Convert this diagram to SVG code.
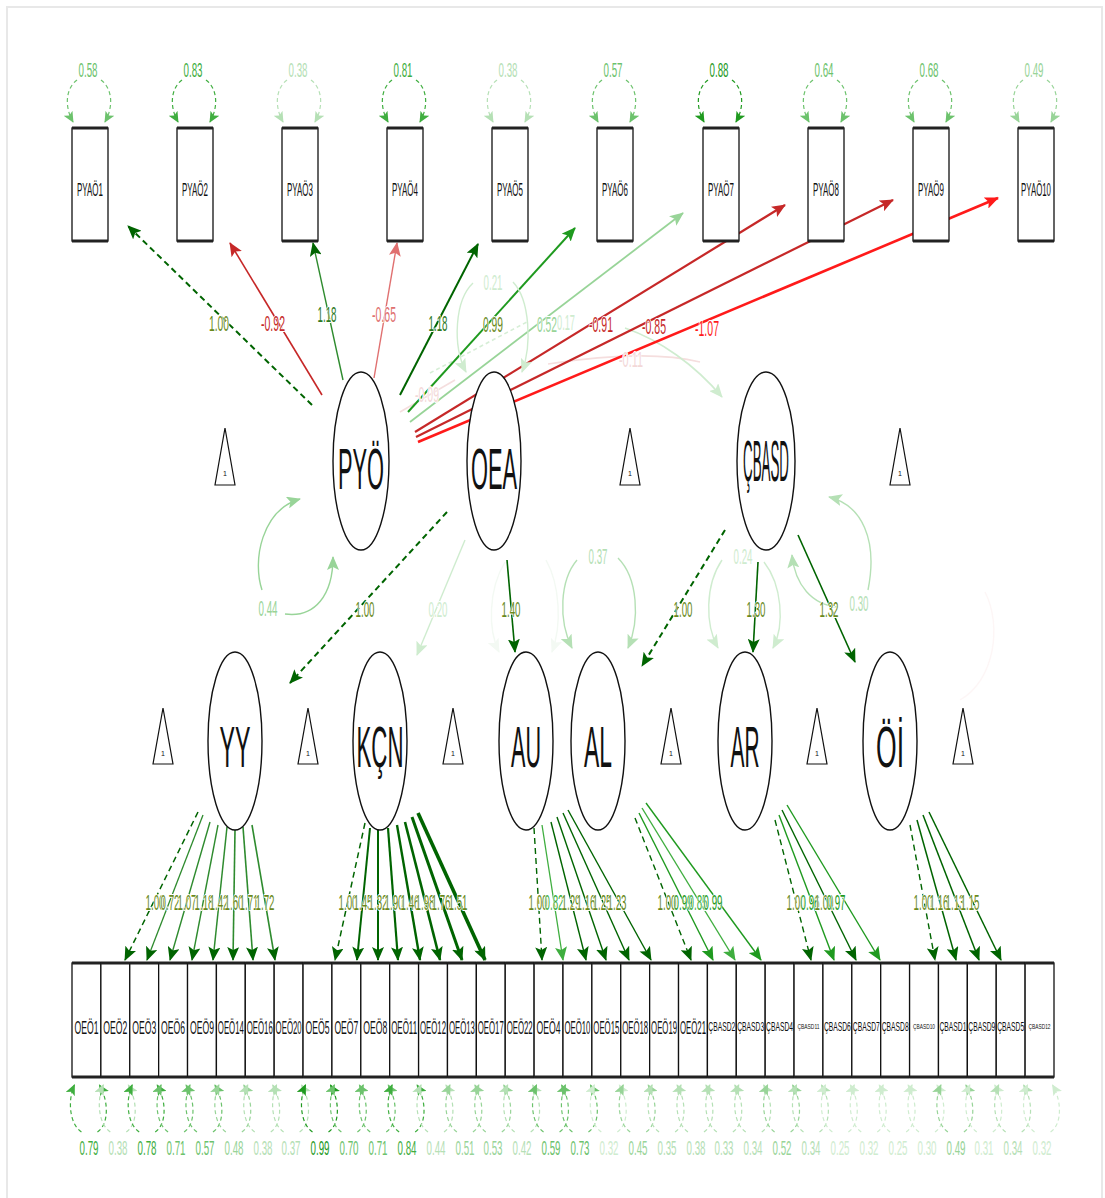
<svg xmlns="http://www.w3.org/2000/svg" width="1105" height="1198" viewBox="0 0 1105 1198">
<style>
text{font-family:'Liberation Sans',Arial,sans-serif}
.box{fill:#fff;stroke:#111;stroke-width:1.3}
.cap{stroke:#222;stroke-width:3;fill:none}
.lat{fill:#fff;stroke:#111;stroke-width:1.4}
.tri{fill:#fff;stroke:#111;stroke-width:1.2}
.one{font-size:7px;text-anchor:middle;fill:#111}
.bt{font-size:18px;text-anchor:middle;fill:#111}
.bs{font-size:13px;text-anchor:middle;fill:#111}
.bx{font-size:8px;text-anchor:middle;fill:#111}
.lt{font-size:58px;text-anchor:middle;fill:#111}
.e{fill:none}
.d{stroke-dasharray:6 4}
.kA{stroke:#006400;marker-end:url(#aA)}
.kY{stroke:#2e8b2e;marker-end:url(#aA)}
.kB{stroke:#1f9a1f;marker-end:url(#aB)}
.kC{stroke:#3fae3f;marker-end:url(#aC)}
.kE{stroke:#98d498;marker-end:url(#aE)}
.kF{stroke:#b5e0b5;marker-end:url(#aF)}
.kG{stroke:#cfeccf;marker-end:url(#aG)}
.kH{stroke:#f3f9f3;marker-end:url(#aH)}
.kR1{stroke:#ff1a1a;marker-end:url(#aR1)}
.kR2{stroke:#c62828;marker-end:url(#aR2)}
.kR3{stroke:#e07070;marker-end:url(#aR3)}
.vl{fill:none;stroke-width:1.2;stroke-dasharray:4 3}
.vB{stroke:#1f9a1f;marker-end:url(#sB)}
.vC{stroke:#3fae3f;marker-end:url(#sC)}
.vD{stroke:#6cc26c;marker-end:url(#sD)}
.vE{stroke:#98d498;marker-end:url(#sE)}
.vF{stroke:#b5e0b5;marker-end:url(#sF)}
.vG{stroke:#cfeccf;marker-end:url(#sG)}
.lb{font-size:22px;text-anchor:middle;paint-order:stroke;stroke:#fff;stroke-width:2px;stroke-linejoin:round}
.vt{font-size:21px;text-anchor:middle}
.tO{fill:#6a8a1c}
.tA{fill:#2f7a1f}
.tB{fill:#1f9a1f}
.tC{fill:#3fae3f}
.tD{fill:#6cc26c}
.tE{fill:#98d498}
.tF{fill:#b5e0b5}
.tG{fill:#cfeccf}
.tR1{fill:#ff1a1a}
.tR2{fill:#c62828}
.tR3{fill:#e07070}
.tP{fill:#f3d8d8}
</style>
<defs>
<marker id="aA" viewBox="0 0 14 12" refX="13" refY="6" markerWidth="14" markerHeight="12" markerUnits="userSpaceOnUse" orient="auto"><path d="M0,0L14,6L0,12L3,6Z" fill="#006400"/></marker>
<marker id="aB" viewBox="0 0 14 12" refX="13" refY="6" markerWidth="14" markerHeight="12" markerUnits="userSpaceOnUse" orient="auto"><path d="M0,0L14,6L0,12L3,6Z" fill="#1f9a1f"/></marker>
<marker id="aC" viewBox="0 0 14 12" refX="13" refY="6" markerWidth="14" markerHeight="12" markerUnits="userSpaceOnUse" orient="auto"><path d="M0,0L14,6L0,12L3,6Z" fill="#3fae3f"/></marker>
<marker id="aE" viewBox="0 0 14 12" refX="13" refY="6" markerWidth="14" markerHeight="12" markerUnits="userSpaceOnUse" orient="auto"><path d="M0,0L14,6L0,12L3,6Z" fill="#98d498"/></marker>
<marker id="aF" viewBox="0 0 14 12" refX="13" refY="6" markerWidth="14" markerHeight="12" markerUnits="userSpaceOnUse" orient="auto"><path d="M0,0L14,6L0,12L3,6Z" fill="#b5e0b5"/></marker>
<marker id="aG" viewBox="0 0 14 12" refX="13" refY="6" markerWidth="14" markerHeight="12" markerUnits="userSpaceOnUse" orient="auto"><path d="M0,0L14,6L0,12L3,6Z" fill="#cfeccf"/></marker>
<marker id="aH" viewBox="0 0 14 12" refX="13" refY="6" markerWidth="14" markerHeight="12" markerUnits="userSpaceOnUse" orient="auto"><path d="M0,0L14,6L0,12L3,6Z" fill="#f3f9f3"/></marker>
<marker id="aR1" viewBox="0 0 14 12" refX="13" refY="6" markerWidth="14" markerHeight="12" markerUnits="userSpaceOnUse" orient="auto"><path d="M0,0L14,6L0,12L3,6Z" fill="#ff1a1a"/></marker>
<marker id="aR2" viewBox="0 0 14 12" refX="13" refY="6" markerWidth="14" markerHeight="12" markerUnits="userSpaceOnUse" orient="auto"><path d="M0,0L14,6L0,12L3,6Z" fill="#c62828"/></marker>
<marker id="aR3" viewBox="0 0 14 12" refX="13" refY="6" markerWidth="14" markerHeight="12" markerUnits="userSpaceOnUse" orient="auto"><path d="M0,0L14,6L0,12L3,6Z" fill="#e07070"/></marker>
<marker id="sB" viewBox="0 0 11 10" refX="10" refY="5" markerWidth="11" markerHeight="10" markerUnits="userSpaceOnUse" orient="auto"><path d="M0,0L11,5L0,10L2.5,5Z" fill="#1f9a1f"/></marker>
<marker id="sC" viewBox="0 0 11 10" refX="10" refY="5" markerWidth="11" markerHeight="10" markerUnits="userSpaceOnUse" orient="auto"><path d="M0,0L11,5L0,10L2.5,5Z" fill="#3fae3f"/></marker>
<marker id="sD" viewBox="0 0 11 10" refX="10" refY="5" markerWidth="11" markerHeight="10" markerUnits="userSpaceOnUse" orient="auto"><path d="M0,0L11,5L0,10L2.5,5Z" fill="#6cc26c"/></marker>
<marker id="sE" viewBox="0 0 11 10" refX="10" refY="5" markerWidth="11" markerHeight="10" markerUnits="userSpaceOnUse" orient="auto"><path d="M0,0L11,5L0,10L2.5,5Z" fill="#98d498"/></marker>
<marker id="sF" viewBox="0 0 11 10" refX="10" refY="5" markerWidth="11" markerHeight="10" markerUnits="userSpaceOnUse" orient="auto"><path d="M0,0L11,5L0,10L2.5,5Z" fill="#b5e0b5"/></marker>
<marker id="sG" viewBox="0 0 11 10" refX="10" refY="5" markerWidth="11" markerHeight="10" markerUnits="userSpaceOnUse" orient="auto"><path d="M0,0L11,5L0,10L2.5,5Z" fill="#cfeccf"/></marker>
<g id="lpT"><path d="M-13,80C-24,88 -26,106 -17,122"/><path d="M11,80C22,88 24,106 15,122"/></g>
<g id="lpB"><path d="M-5,1132C-17,1124 -19,1100 -12,1085"/><path d="M11,1132C23,1124 22,1100 13,1085"/></g>
</defs>
<rect x="7" y="7" width="1095" height="1200" fill="none" stroke="#e8e8e8" stroke-width="2"/>

<g id="connectors">
<use href="#lpT" x="90" class="vl vD"/><use href="#lpT" x="195" class="vl vC"/><use href="#lpT" x="300" class="vl vF"/><use href="#lpT" x="405" class="vl vC"/><use href="#lpT" x="510" class="vl vF"/>
<use href="#lpT" x="615" class="vl vD"/><use href="#lpT" x="721" class="vl vB"/><use href="#lpT" x="826" class="vl vD"/><use href="#lpT" x="931" class="vl vD"/><use href="#lpT" x="1036" class="vl vE"/>
<text class="vt tD" x="88" y="77" textLength="19" lengthAdjust="spacingAndGlyphs">0.58</text>
<text class="vt tC" x="193" y="77" textLength="19" lengthAdjust="spacingAndGlyphs">0.83</text>
<text class="vt tF" x="298" y="77" textLength="19" lengthAdjust="spacingAndGlyphs">0.38</text>
<text class="vt tC" x="403" y="77" textLength="19" lengthAdjust="spacingAndGlyphs">0.81</text>
<text class="vt tF" x="508" y="77" textLength="19" lengthAdjust="spacingAndGlyphs">0.38</text>
<text class="vt tD" x="613" y="77" textLength="19" lengthAdjust="spacingAndGlyphs">0.57</text>
<text class="vt tB" x="719" y="77" textLength="19" lengthAdjust="spacingAndGlyphs">0.88</text>
<text class="vt tD" x="824" y="77" textLength="19" lengthAdjust="spacingAndGlyphs">0.64</text>
<text class="vt tD" x="929" y="77" textLength="19" lengthAdjust="spacingAndGlyphs">0.68</text>
<text class="vt tE" x="1034" y="77" textLength="19" lengthAdjust="spacingAndGlyphs">0.49</text>

<path class="e" stroke="#d6eed6" stroke-width="1.6" stroke-dasharray="4 3" d="M430,373L527,322"/>
<path class="e" stroke="#f5dede" stroke-width="1.6" d="M400,412L455,380"/>
<path class="e" stroke="#f5dede" stroke-width="1.6" d="M548,364C600,356 660,352 700,362"/>
<path class="e kG" stroke-width="1.6" d="M625,328C660,340 695,365 722,397"/>

<path class="e kA d" stroke-width="2" d="M312,405L128,226"/>
<path class="e kR2" stroke-width="1.6" d="M322,395L230,243"/>
<path class="e kY" stroke-width="1.4" d="M343,380L313,243"/>
<path class="e kR3" stroke-width="1.4" d="M374,378L397,243"/>
<path class="e kA" stroke-width="2" d="M400,395L478,244"/>
<path class="e kB" stroke-width="2" d="M408,412L575,228"/>
<path class="e kE" stroke-width="1.8" d="M410,422L683,213"/>
<path class="e kR2" stroke-width="2.2" d="M415,432L785,205"/>
<path class="e kR2" stroke-width="2.2" d="M416,437L893,200"/>
<path class="e kR1" stroke-width="2.6" d="M418,442L998,198"/>
<text class="lb tO" x="219" y="331" textLength="20" lengthAdjust="spacingAndGlyphs">1.00</text>
<text class="lb tR2" x="273" y="331" textLength="24" lengthAdjust="spacingAndGlyphs">-0.92</text>
<text class="lb tA" x="327" y="322" textLength="19" lengthAdjust="spacingAndGlyphs">1.18</text>
<text class="lb tR3" x="384" y="322" textLength="24" lengthAdjust="spacingAndGlyphs">-0.65</text>
<text class="lb tA" x="438" y="331" textLength="19" lengthAdjust="spacingAndGlyphs">1.18</text>
<text class="lb tO" x="493" y="332" textLength="20" lengthAdjust="spacingAndGlyphs">0.99</text>
<text class="lb tE" x="547" y="332" textLength="20" lengthAdjust="spacingAndGlyphs">0.52</text>
<text class="lb tG" x="566" y="330" textLength="18" lengthAdjust="spacingAndGlyphs">0.17</text>
<text class="lb tR2" x="601" y="332" textLength="24" lengthAdjust="spacingAndGlyphs">-0.91</text>
<text class="lb tR2" x="654" y="334" textLength="24" lengthAdjust="spacingAndGlyphs">-0.85</text>
<text class="lb tR1" x="707" y="336" textLength="24" lengthAdjust="spacingAndGlyphs">-1.07</text>
<text class="lb tP" x="427" y="402" textLength="24" lengthAdjust="spacingAndGlyphs">-0.09</text>
<text class="lb tP" x="631" y="367" textLength="24" lengthAdjust="spacingAndGlyphs">-0.11</text>

<path class="e kE" stroke-width="1.4" d="M262,590C252,560 262,510 300,499"/>
<path class="e kE" stroke-width="1.4" d="M285,614C315,618 333,595 333,557"/>
<path class="e kG" stroke-width="1.4" d="M473,283C455,300 452,345 466,372"/>
<path class="e kG" stroke-width="1.4" d="M513,282C530,300 532,345 522,372"/>
<path class="e kF" stroke-width="1.4" d="M868,590C878,540 862,505 829,497"/>
<path class="e kF" stroke-width="1.4" d="M838,607C812,605 795,585 792,555"/>
<path class="e kF" stroke-width="1.4" d="M577,560C560,580 558,620 572,648"/>
<path class="e kF" stroke-width="1.4" d="M618,558C638,578 640,620 628,648"/>
<path class="e kG" stroke-width="1.4" d="M722,560C705,585 705,625 718,648"/>
<path class="e kG" stroke-width="1.4" d="M764,562C782,585 785,625 773,648"/>
<path class="e kH" stroke-width="1.4" d="M505,562C488,590 488,630 499,652"/>
<path class="e kH" stroke-width="1.4" d="M546,560C560,585 562,625 552,652"/>
<path class="e" stroke="#fdf6f6" stroke-width="1.4" d="M985,592C1002,625 995,680 960,700"/>
<text class="lb tE" x="268" y="616" textLength="19" lengthAdjust="spacingAndGlyphs">0.44</text>
<text class="lb tG" x="493" y="290" textLength="19" lengthAdjust="spacingAndGlyphs">0.21</text>
<text class="lb tF" x="598" y="564" textLength="19" lengthAdjust="spacingAndGlyphs">0.37</text>
<text class="lb tG" x="743" y="564" textLength="19" lengthAdjust="spacingAndGlyphs">0.24</text>
<text class="lb tF" x="859" y="611" textLength="19" lengthAdjust="spacingAndGlyphs">0.30</text>

<path class="e kA d" stroke-width="2" d="M447,512L290,683"/>
<path class="e kG" stroke-width="1.4" d="M465,540L417,655"/>
<path class="e kA" stroke-width="1.6" d="M507,560L515,652"/>
<path class="e kA d" stroke-width="2" d="M725,530L642,666"/>
<path class="e kA" stroke-width="1.6" d="M758,562L753,652"/>
<path class="e kA" stroke-width="1.6" d="M798,535L855,662"/>
<text class="lb tO" x="365" y="617" textLength="19" lengthAdjust="spacingAndGlyphs">1.00</text>
<text class="lb tG" x="438" y="617" textLength="19" lengthAdjust="spacingAndGlyphs">0.20</text>
<text class="lb tO" x="511" y="617" textLength="19" lengthAdjust="spacingAndGlyphs">1.40</text>
<text class="lb tO" x="683" y="617" textLength="19" lengthAdjust="spacingAndGlyphs">1.00</text>
<text class="lb tO" x="756" y="617" textLength="19" lengthAdjust="spacingAndGlyphs">1.30</text>
<text class="lb tO" x="829" y="617" textLength="19" lengthAdjust="spacingAndGlyphs">1.32</text>

<path class="e kA d" stroke-width="1.5" d="M198,812L125,960"/>
<path class="e kY" stroke-width="1.3" d="M203,815L147,960"/>
<path class="e kY" stroke-width="1.4" d="M210,822L170,960"/>
<path class="e kY" stroke-width="1.4" d="M218,825L192,960"/>
<path class="e kY" stroke-width="1.5" d="M227,827L213,960"/>
<path class="e kY" stroke-width="1.6" d="M235,830L233,960"/>
<path class="e kY" stroke-width="1.6" d="M243,827L253,960"/>
<path class="e kY" stroke-width="1.6" d="M252,825L275,960"/>
<path class="e kA d" stroke-width="1.5" d="M365,823L335,960"/>
<path class="e kA" stroke-width="2" d="M370,828L357,960"/>
<path class="e kA" stroke-width="2" d="M378,830L378,960"/>
<path class="e kA" stroke-width="2.2" d="M388,828L398,960"/>
<path class="e kA" stroke-width="2.4" d="M397,825L420,960"/>
<path class="e kA" stroke-width="2.6" d="M405,822L440,960"/>
<path class="e kA" stroke-width="3" d="M412,817L462,960"/>
<path class="e kA" stroke-width="3.6" d="M418,813L485,960"/>
<path class="e kA d" stroke-width="1.4" d="M534,828L542,960"/>
<path class="e kC" stroke-width="1.3" d="M542,825L563,960"/>
<path class="e kA" stroke-width="1.4" d="M551,822L586,960"/>
<path class="e kA" stroke-width="1.4" d="M557,817L606,960"/>
<path class="e kA" stroke-width="1.4" d="M563,813L629,960"/>
<path class="e kA" stroke-width="1.4" d="M568,810L651,960"/>
<path class="e kA d" stroke-width="1.4" d="M635,818L691,960"/>
<path class="e kB" stroke-width="1.4" d="M639,813L713,960"/>
<path class="e kC" stroke-width="1.4" d="M642,808L735,960"/>
<path class="e kB" stroke-width="1.4" d="M646,803L761,960"/>
<path class="e kA d" stroke-width="1.4" d="M775,820L811,960"/>
<path class="e kB" stroke-width="1.4" d="M779,815L834,960"/>
<path class="e kA" stroke-width="1.4" d="M782,810L856,960"/>
<path class="e kB" stroke-width="1.4" d="M787,805L880,960"/>
<path class="e kA d" stroke-width="1.4" d="M910,825L935,960"/>
<path class="e kA" stroke-width="1.5" d="M917,820L956,960"/>
<path class="e kA" stroke-width="1.5" d="M923,815L979,960"/>
<path class="e kA" stroke-width="1.5" d="M929,812L1001,960"/>

<text class="lb tO" x="155" y="910" textLength="19" lengthAdjust="spacingAndGlyphs">1.00</text>
<text class="lb tO" x="170" y="910" textLength="19" lengthAdjust="spacingAndGlyphs">0.72</text>
<text class="lb tO" x="187" y="910" textLength="19" lengthAdjust="spacingAndGlyphs">1.07</text>
<text class="lb tO" x="204" y="910" textLength="19" lengthAdjust="spacingAndGlyphs">1.18</text>
<text class="lb tO" x="219" y="910" textLength="19" lengthAdjust="spacingAndGlyphs">1.42</text>
<text class="lb tO" x="234" y="910" textLength="19" lengthAdjust="spacingAndGlyphs">1.60</text>
<text class="lb tO" x="249" y="910" textLength="19" lengthAdjust="spacingAndGlyphs">1.71</text>
<text class="lb tO" x="265" y="910" textLength="19" lengthAdjust="spacingAndGlyphs">1.72</text>

<text class="lb tO" x="348" y="910" textLength="19" lengthAdjust="spacingAndGlyphs">1.00</text>
<text class="lb tO" x="363" y="910" textLength="19" lengthAdjust="spacingAndGlyphs">1.45</text>
<text class="lb tO" x="378" y="910" textLength="19" lengthAdjust="spacingAndGlyphs">1.32</text>
<text class="lb tO" x="394" y="910" textLength="19" lengthAdjust="spacingAndGlyphs">1.90</text>
<text class="lb tO" x="410" y="910" textLength="19" lengthAdjust="spacingAndGlyphs">1.46</text>
<text class="lb tO" x="425" y="910" textLength="19" lengthAdjust="spacingAndGlyphs">1.98</text>
<text class="lb tO" x="441" y="910" textLength="19" lengthAdjust="spacingAndGlyphs">1.76</text>
<text class="lb tO" x="458" y="910" textLength="19" lengthAdjust="spacingAndGlyphs">1.51</text>

<text class="lb tO" x="538" y="910" textLength="19" lengthAdjust="spacingAndGlyphs">1.00</text>
<text class="lb tC" x="554" y="910" textLength="19" lengthAdjust="spacingAndGlyphs">0.82</text>
<text class="lb tO" x="571" y="910" textLength="19" lengthAdjust="spacingAndGlyphs">1.29</text>
<text class="lb tO" x="586" y="910" textLength="19" lengthAdjust="spacingAndGlyphs">1.16</text>
<text class="lb tO" x="602" y="910" textLength="19" lengthAdjust="spacingAndGlyphs">1.25</text>
<text class="lb tO" x="617" y="910" textLength="19" lengthAdjust="spacingAndGlyphs">1.23</text>

<text class="lb tO" x="667" y="910" textLength="19" lengthAdjust="spacingAndGlyphs">1.00</text>
<text class="lb tB" x="683" y="910" textLength="19" lengthAdjust="spacingAndGlyphs">0.99</text>
<text class="lb tC" x="698" y="910" textLength="19" lengthAdjust="spacingAndGlyphs">0.85</text>
<text class="lb tB" x="713" y="910" textLength="19" lengthAdjust="spacingAndGlyphs">0.99</text>

<text class="lb tO" x="796" y="910" textLength="19" lengthAdjust="spacingAndGlyphs">1.00</text>
<text class="lb tB" x="810" y="910" textLength="19" lengthAdjust="spacingAndGlyphs">0.96</text>
<text class="lb tO" x="824" y="910" textLength="19" lengthAdjust="spacingAndGlyphs">1.00</text>
<text class="lb tB" x="836" y="910" textLength="19" lengthAdjust="spacingAndGlyphs">0.97</text>

<text class="lb tO" x="923" y="910" textLength="19" lengthAdjust="spacingAndGlyphs">1.00</text>
<text class="lb tO" x="939" y="910" textLength="19" lengthAdjust="spacingAndGlyphs">1.16</text>
<text class="lb tO" x="955" y="910" textLength="19" lengthAdjust="spacingAndGlyphs">1.13</text>
<text class="lb tO" x="970" y="910" textLength="19" lengthAdjust="spacingAndGlyphs">1.15</text>

<use href="#lpB" x="86.44" class="vl vC"/><use href="#lpB" x="115.32" class="vl vF"/><use href="#lpB" x="144.21" class="vl vC"/><use href="#lpB" x="173.09" class="vl vD"/><use href="#lpB" x="201.97" class="vl vD"/><use href="#lpB" x="230.85" class="vl vE"/><use href="#lpB" x="259.74" class="vl vF"/><use href="#lpB" x="288.62" class="vl vF"/>
<use href="#lpB" x="317.50" class="vl vB"/><use href="#lpB" x="346.38" class="vl vD"/><use href="#lpB" x="375.26" class="vl vD"/><use href="#lpB" x="404.15" class="vl vC"/><use href="#lpB" x="433.03" class="vl vF"/><use href="#lpB" x="461.91" class="vl vE"/><use href="#lpB" x="490.79" class="vl vE"/><use href="#lpB" x="519.68" class="vl vF"/>
<use href="#lpB" x="548.56" class="vl vD"/><use href="#lpB" x="577.44" class="vl vD"/><use href="#lpB" x="606.32" class="vl vG"/><use href="#lpB" x="635.21" class="vl vE"/><use href="#lpB" x="664.09" class="vl vF"/><use href="#lpB" x="692.97" class="vl vF"/>
<use href="#lpB" x="721.85" class="vl vF"/><use href="#lpB" x="750.74" class="vl vF"/><use href="#lpB" x="779.62" class="vl vE"/><use href="#lpB" x="808.50" class="vl vF"/><use href="#lpB" x="837.38" class="vl vG"/><use href="#lpB" x="866.26" class="vl vG"/><use href="#lpB" x="895.15" class="vl vG"/><use href="#lpB" x="924.03" class="vl vG"/>
<use href="#lpB" x="952.91" class="vl vE"/><use href="#lpB" x="981.79" class="vl vG"/><use href="#lpB" x="1010.68" class="vl vF"/><use href="#lpB" x="1039.56" class="vl vG"/>
<text class="vt tC" x="89" y="1155" textLength="19" lengthAdjust="spacingAndGlyphs">0.79</text>
<text class="vt tF" x="118" y="1155" textLength="19" lengthAdjust="spacingAndGlyphs">0.38</text>
<text class="vt tC" x="147" y="1155" textLength="19" lengthAdjust="spacingAndGlyphs">0.78</text>
<text class="vt tD" x="176" y="1155" textLength="19" lengthAdjust="spacingAndGlyphs">0.71</text>
<text class="vt tD" x="205" y="1155" textLength="19" lengthAdjust="spacingAndGlyphs">0.57</text>
<text class="vt tE" x="234" y="1155" textLength="19" lengthAdjust="spacingAndGlyphs">0.48</text>
<text class="vt tF" x="263" y="1155" textLength="19" lengthAdjust="spacingAndGlyphs">0.38</text>
<text class="vt tF" x="291" y="1155" textLength="19" lengthAdjust="spacingAndGlyphs">0.37</text>
<text class="vt tB" x="320" y="1155" textLength="19" lengthAdjust="spacingAndGlyphs">0.99</text>
<text class="vt tD" x="349" y="1155" textLength="19" lengthAdjust="spacingAndGlyphs">0.70</text>
<text class="vt tD" x="378" y="1155" textLength="19" lengthAdjust="spacingAndGlyphs">0.71</text>
<text class="vt tC" x="407" y="1155" textLength="19" lengthAdjust="spacingAndGlyphs">0.84</text>
<text class="vt tF" x="436" y="1155" textLength="19" lengthAdjust="spacingAndGlyphs">0.44</text>
<text class="vt tE" x="465" y="1155" textLength="19" lengthAdjust="spacingAndGlyphs">0.51</text>
<text class="vt tE" x="493" y="1155" textLength="19" lengthAdjust="spacingAndGlyphs">0.53</text>
<text class="vt tF" x="522" y="1155" textLength="19" lengthAdjust="spacingAndGlyphs">0.42</text>
<text class="vt tD" x="551" y="1155" textLength="19" lengthAdjust="spacingAndGlyphs">0.59</text>
<text class="vt tD" x="580" y="1155" textLength="19" lengthAdjust="spacingAndGlyphs">0.73</text>
<text class="vt tG" x="609" y="1155" textLength="19" lengthAdjust="spacingAndGlyphs">0.32</text>
<text class="vt tE" x="638" y="1155" textLength="19" lengthAdjust="spacingAndGlyphs">0.45</text>
<text class="vt tF" x="667" y="1155" textLength="19" lengthAdjust="spacingAndGlyphs">0.35</text>
<text class="vt tF" x="696" y="1155" textLength="19" lengthAdjust="spacingAndGlyphs">0.38</text>
<text class="vt tF" x="724" y="1155" textLength="19" lengthAdjust="spacingAndGlyphs">0.33</text>
<text class="vt tF" x="753" y="1155" textLength="19" lengthAdjust="spacingAndGlyphs">0.34</text>
<text class="vt tE" x="782" y="1155" textLength="19" lengthAdjust="spacingAndGlyphs">0.52</text>
<text class="vt tF" x="811" y="1155" textLength="19" lengthAdjust="spacingAndGlyphs">0.34</text>
<text class="vt tG" x="840" y="1155" textLength="19" lengthAdjust="spacingAndGlyphs">0.25</text>
<text class="vt tG" x="869" y="1155" textLength="19" lengthAdjust="spacingAndGlyphs">0.32</text>
<text class="vt tG" x="898" y="1155" textLength="19" lengthAdjust="spacingAndGlyphs">0.25</text>
<text class="vt tG" x="927" y="1155" textLength="19" lengthAdjust="spacingAndGlyphs">0.30</text>
<text class="vt tE" x="956" y="1155" textLength="19" lengthAdjust="spacingAndGlyphs">0.49</text>
<text class="vt tG" x="984" y="1155" textLength="19" lengthAdjust="spacingAndGlyphs">0.31</text>
<text class="vt tF" x="1013" y="1155" textLength="19" lengthAdjust="spacingAndGlyphs">0.34</text>
<text class="vt tG" x="1042" y="1155" textLength="19" lengthAdjust="spacingAndGlyphs">0.32</text>
</g>

<g id="PYAO1"><rect class="box" x="72" y="128" width="36" height="113"/><path class="cap" d="M72,128h36M72,241h36"/><text class="bt" x="90" y="196" textLength="26" lengthAdjust="spacingAndGlyphs">PYAÖ1</text></g>
<g id="PYAO2"><rect class="box" x="177" y="128" width="36" height="113"/><path class="cap" d="M177,128h36M177,241h36"/><text class="bt" x="195" y="196" textLength="26" lengthAdjust="spacingAndGlyphs">PYAÖ2</text></g>
<g id="PYAO3"><rect class="box" x="282" y="128" width="36" height="113"/><path class="cap" d="M282,128h36M282,241h36"/><text class="bt" x="300" y="196" textLength="26" lengthAdjust="spacingAndGlyphs">PYAÖ3</text></g>
<g id="PYAO4"><rect class="box" x="387" y="128" width="36" height="113"/><path class="cap" d="M387,128h36M387,241h36"/><text class="bt" x="405" y="196" textLength="26" lengthAdjust="spacingAndGlyphs">PYAÖ4</text></g>
<g id="PYAO5"><rect class="box" x="492" y="128" width="36" height="113"/><path class="cap" d="M492,128h36M492,241h36"/><text class="bt" x="510" y="196" textLength="26" lengthAdjust="spacingAndGlyphs">PYAÖ5</text></g>
<g id="PYAO6"><rect class="box" x="597" y="128" width="36" height="113"/><path class="cap" d="M597,128h36M597,241h36"/><text class="bt" x="615" y="196" textLength="26" lengthAdjust="spacingAndGlyphs">PYAÖ6</text></g>
<g id="PYAO7"><rect class="box" x="703" y="128" width="36" height="113"/><path class="cap" d="M703,128h36M703,241h36"/><text class="bt" x="721" y="196" textLength="26" lengthAdjust="spacingAndGlyphs">PYAÖ7</text></g>
<g id="PYAO8"><rect class="box" x="808" y="128" width="36" height="113"/><path class="cap" d="M808,128h36M808,241h36"/><text class="bt" x="826" y="196" textLength="26" lengthAdjust="spacingAndGlyphs">PYAÖ8</text></g>
<g id="PYAO9"><rect class="box" x="913" y="128" width="36" height="113"/><path class="cap" d="M913,128h36M913,241h36"/><text class="bt" x="931" y="196" textLength="26" lengthAdjust="spacingAndGlyphs">PYAÖ9</text></g>
<g id="PYAO10"><rect class="box" x="1018" y="128" width="36" height="113"/><path class="cap" d="M1018,128h36M1018,241h36"/><text class="bt" x="1036" y="196" textLength="30" lengthAdjust="spacingAndGlyphs">PYAÖ10</text></g>

<g id="PYO"><ellipse class="lat" cx="361" cy="461" rx="28" ry="89"/><text class="lt" x="361" y="489" textLength="46" lengthAdjust="spacingAndGlyphs">PYÖ</text></g>
<g id="OEA"><ellipse class="lat" cx="494" cy="461" rx="27" ry="89"/><text class="lt" x="494" y="489" textLength="46" lengthAdjust="spacingAndGlyphs">OEA</text></g>
<g id="CBASD"><ellipse class="lat" cx="766" cy="461" rx="29" ry="89"/><text class="lt" x="766" y="481" font-size="30" textLength="46" lengthAdjust="spacingAndGlyphs">ÇBASD</text></g>
<g id="YY"><ellipse class="lat" cx="235" cy="741" rx="27" ry="89"/><text class="lt" x="235" y="767" textLength="31" lengthAdjust="spacingAndGlyphs">YY</text></g>
<g id="KCN"><ellipse class="lat" cx="380" cy="741" rx="27" ry="89"/><text class="lt" x="380" y="767" textLength="47" lengthAdjust="spacingAndGlyphs">KÇN</text></g>
<g id="AU"><ellipse class="lat" cx="526" cy="741" rx="27" ry="89"/><text class="lt" x="526" y="767" textLength="30" lengthAdjust="spacingAndGlyphs">AU</text></g>
<g id="AL"><ellipse class="lat" cx="598" cy="741" rx="27" ry="89"/><text class="lt" x="598" y="767" textLength="28" lengthAdjust="spacingAndGlyphs">AL</text></g>
<g id="AR"><ellipse class="lat" cx="745" cy="741" rx="27" ry="89"/><text class="lt" x="745" y="767" textLength="29" lengthAdjust="spacingAndGlyphs">AR</text></g>
<g id="OI"><ellipse class="lat" cx="890" cy="741" rx="27" ry="89"/><text class="lt" x="890" y="767" textLength="28" lengthAdjust="spacingAndGlyphs">Öİ</text></g>

<g id="int_PYO"><polygon class="tri" points="225,428 215,485 235,485"/><text class="one" x="225" y="476">1</text></g>
<g id="int_OEA"><polygon class="tri" points="630,428 620,485 640,485"/><text class="one" x="630" y="476">1</text></g>
<g id="int_CBASD"><polygon class="tri" points="900,428 890,485 910,485"/><text class="one" x="900" y="476">1</text></g>
<g id="int_YY"><polygon class="tri" points="163,708 153,764 173,764"/><text class="one" x="163" y="756">1</text></g>
<g id="int_KCN"><polygon class="tri" points="308,708 298,764 318,764"/><text class="one" x="308" y="756">1</text></g>
<g id="int_AU"><polygon class="tri" points="453,708 443,764 463,764"/><text class="one" x="453" y="756">1</text></g>
<g id="int_AL"><polygon class="tri" points="671,708 661,764 681,764"/><text class="one" x="671" y="756">1</text></g>
<g id="int_AR"><polygon class="tri" points="817,708 807,764 827,764"/><text class="one" x="817" y="756">1</text></g>
<g id="int_OI"><polygon class="tri" points="963,708 953,764 973,764"/><text class="one" x="963" y="756">1</text></g>

<g id="OEO1"><rect class="box" x="72" y="963" width="28.88" height="114"/><path class="cap" d="M72,963h28.88M72,1077h28.88"/><text class="bt" x="86.44" y="1034" textLength="24" lengthAdjust="spacingAndGlyphs">OEÖ1</text></g>
<g id="OEO2"><rect class="box" x="100.88" y="963" width="28.88" height="114"/><path class="cap" d="M100.88,963h28.88M100.88,1077h28.88"/><text class="bt" x="115.32" y="1034" textLength="24" lengthAdjust="spacingAndGlyphs">OEÖ2</text></g>
<g id="OEO3"><rect class="box" x="129.76" y="963" width="28.88" height="114"/><path class="cap" d="M129.76,963h28.88M129.76,1077h28.88"/><text class="bt" x="144.21" y="1034" textLength="24" lengthAdjust="spacingAndGlyphs">OEÖ3</text></g>
<g id="OEO6"><rect class="box" x="158.65" y="963" width="28.88" height="114"/><path class="cap" d="M158.65,963h28.88M158.65,1077h28.88"/><text class="bt" x="173.09" y="1034" textLength="24" lengthAdjust="spacingAndGlyphs">OEÖ6</text></g>
<g id="OEO9"><rect class="box" x="187.53" y="963" width="28.88" height="114"/><path class="cap" d="M187.53,963h28.88M187.53,1077h28.88"/><text class="bt" x="201.97" y="1034" textLength="24" lengthAdjust="spacingAndGlyphs">OEÖ9</text></g>
<g id="OEO14"><rect class="box" x="216.41" y="963" width="28.88" height="114"/><path class="cap" d="M216.41,963h28.88M216.41,1077h28.88"/><text class="bt" x="230.85" y="1034" textLength="26" lengthAdjust="spacingAndGlyphs">OEÖ14</text></g>
<g id="OEO16"><rect class="box" x="245.29" y="963" width="28.88" height="114"/><path class="cap" d="M245.29,963h28.88M245.29,1077h28.88"/><text class="bt" x="259.74" y="1034" textLength="26" lengthAdjust="spacingAndGlyphs">OEÖ16</text></g>
<g id="OEO20"><rect class="box" x="274.18" y="963" width="28.88" height="114"/><path class="cap" d="M274.18,963h28.88M274.18,1077h28.88"/><text class="bt" x="288.62" y="1034" textLength="26" lengthAdjust="spacingAndGlyphs">OEÖ20</text></g>
<g id="OEO5"><rect class="box" x="303.06" y="963" width="28.88" height="114"/><path class="cap" d="M303.06,963h28.88M303.06,1077h28.88"/><text class="bt" x="317.50" y="1034" textLength="24" lengthAdjust="spacingAndGlyphs">OEÖ5</text></g>
<g id="OEO7"><rect class="box" x="331.94" y="963" width="28.88" height="114"/><path class="cap" d="M331.94,963h28.88M331.94,1077h28.88"/><text class="bt" x="346.38" y="1034" textLength="24" lengthAdjust="spacingAndGlyphs">OEÖ7</text></g>
<g id="OEO8"><rect class="box" x="360.82" y="963" width="28.88" height="114"/><path class="cap" d="M360.82,963h28.88M360.82,1077h28.88"/><text class="bt" x="375.26" y="1034" textLength="24" lengthAdjust="spacingAndGlyphs">OEÖ8</text></g>
<g id="OEO11"><rect class="box" x="389.71" y="963" width="28.88" height="114"/><path class="cap" d="M389.71,963h28.88M389.71,1077h28.88"/><text class="bt" x="404.15" y="1034" textLength="26" lengthAdjust="spacingAndGlyphs">OEÖ11</text></g>
<g id="OEO12"><rect class="box" x="418.59" y="963" width="28.88" height="114"/><path class="cap" d="M418.59,963h28.88M418.59,1077h28.88"/><text class="bt" x="433.03" y="1034" textLength="26" lengthAdjust="spacingAndGlyphs">OEÖ12</text></g>
<g id="OEO13"><rect class="box" x="447.47" y="963" width="28.88" height="114"/><path class="cap" d="M447.47,963h28.88M447.47,1077h28.88"/><text class="bt" x="461.91" y="1034" textLength="26" lengthAdjust="spacingAndGlyphs">OEÖ13</text></g>
<g id="OEO17"><rect class="box" x="476.35" y="963" width="28.88" height="114"/><path class="cap" d="M476.35,963h28.88M476.35,1077h28.88"/><text class="bt" x="490.79" y="1034" textLength="26" lengthAdjust="spacingAndGlyphs">OEÖ17</text></g>
<g id="OEO22"><rect class="box" x="505.24" y="963" width="28.88" height="114"/><path class="cap" d="M505.24,963h28.88M505.24,1077h28.88"/><text class="bt" x="519.68" y="1034" textLength="26" lengthAdjust="spacingAndGlyphs">OEÖ22</text></g>
<g id="OEO4"><rect class="box" x="534.12" y="963" width="28.88" height="114"/><path class="cap" d="M534.12,963h28.88M534.12,1077h28.88"/><text class="bt" x="548.56" y="1034" textLength="24" lengthAdjust="spacingAndGlyphs">OEÖ4</text></g>
<g id="OEO10"><rect class="box" x="563.00" y="963" width="28.88" height="114"/><path class="cap" d="M563,963h28.88M563,1077h28.88"/><text class="bt" x="577.44" y="1034" textLength="26" lengthAdjust="spacingAndGlyphs">OEÖ10</text></g>
<g id="OEO15"><rect class="box" x="591.88" y="963" width="28.88" height="114"/><path class="cap" d="M591.88,963h28.88M591.88,1077h28.88"/><text class="bt" x="606.32" y="1034" textLength="26" lengthAdjust="spacingAndGlyphs">OEÖ15</text></g>
<g id="OEO18"><rect class="box" x="620.76" y="963" width="28.88" height="114"/><path class="cap" d="M620.76,963h28.88M620.76,1077h28.88"/><text class="bt" x="635.21" y="1034" textLength="26" lengthAdjust="spacingAndGlyphs">OEÖ18</text></g>
<g id="OEO19"><rect class="box" x="649.65" y="963" width="28.88" height="114"/><path class="cap" d="M649.65,963h28.88M649.65,1077h28.88"/><text class="bt" x="664.09" y="1034" textLength="26" lengthAdjust="spacingAndGlyphs">OEÖ19</text></g>
<g id="OEO21"><rect class="box" x="678.53" y="963" width="28.88" height="114"/><path class="cap" d="M678.53,963h28.88M678.53,1077h28.88"/><text class="bt" x="692.97" y="1034" textLength="26" lengthAdjust="spacingAndGlyphs">OEÖ21</text></g>
<g id="CBASD2"><rect class="box" x="707.41" y="963" width="28.88" height="114"/><path class="cap" d="M707.41,963h28.88M707.41,1077h28.88"/><text class="bs" x="721.85" y="1031" textLength="27" lengthAdjust="spacingAndGlyphs">ÇBASD2</text></g>
<g id="CBASD3"><rect class="box" x="736.29" y="963" width="28.88" height="114"/><path class="cap" d="M736.29,963h28.88M736.29,1077h28.88"/><text class="bs" x="750.74" y="1031" textLength="27" lengthAdjust="spacingAndGlyphs">ÇBASD3</text></g>
<g id="CBASD4"><rect class="box" x="765.18" y="963" width="28.88" height="114"/><path class="cap" d="M765.18,963h28.88M765.18,1077h28.88"/><text class="bs" x="779.62" y="1031" textLength="27" lengthAdjust="spacingAndGlyphs">ÇBASD4</text></g>
<g id="CBASD11"><rect class="box" x="794.06" y="963" width="28.88" height="114"/><path class="cap" d="M794.06,963h28.88M794.06,1077h28.88"/><text class="bx" x="808.50" y="1029" textLength="22" lengthAdjust="spacingAndGlyphs">ÇBASD11</text></g>
<g id="CBASD6"><rect class="box" x="822.94" y="963" width="28.88" height="114"/><path class="cap" d="M822.94,963h28.88M822.94,1077h28.88"/><text class="bs" x="837.38" y="1031" textLength="27" lengthAdjust="spacingAndGlyphs">ÇBASD6</text></g>
<g id="CBASD7"><rect class="box" x="851.82" y="963" width="28.88" height="114"/><path class="cap" d="M851.82,963h28.88M851.82,1077h28.88"/><text class="bs" x="866.26" y="1031" textLength="27" lengthAdjust="spacingAndGlyphs">ÇBASD7</text></g>
<g id="CBASD8"><rect class="box" x="880.71" y="963" width="28.88" height="114"/><path class="cap" d="M880.71,963h28.88M880.71,1077h28.88"/><text class="bs" x="895.15" y="1031" textLength="27" lengthAdjust="spacingAndGlyphs">ÇBASD8</text></g>
<g id="CBASD10"><rect class="box" x="909.59" y="963" width="28.88" height="114"/><path class="cap" d="M909.59,963h28.88M909.59,1077h28.88"/><text class="bx" x="924.03" y="1029" textLength="22" lengthAdjust="spacingAndGlyphs">ÇBASD10</text></g>
<g id="CBASD1"><rect class="box" x="938.47" y="963" width="28.88" height="114"/><path class="cap" d="M938.47,963h28.88M938.47,1077h28.88"/><text class="bs" x="952.91" y="1031" textLength="27" lengthAdjust="spacingAndGlyphs">ÇBASD1</text></g>
<g id="CBASD9"><rect class="box" x="967.35" y="963" width="28.88" height="114"/><path class="cap" d="M967.35,963h28.88M967.35,1077h28.88"/><text class="bs" x="981.79" y="1031" textLength="27" lengthAdjust="spacingAndGlyphs">ÇBASD9</text></g>
<g id="CBASD5"><rect class="box" x="996.24" y="963" width="28.88" height="114"/><path class="cap" d="M996.24,963h28.88M996.24,1077h28.88"/><text class="bs" x="1010.68" y="1031" textLength="27" lengthAdjust="spacingAndGlyphs">ÇBASD5</text></g>
<g id="CBASD12"><rect class="box" x="1025.12" y="963" width="28.88" height="114"/><path class="cap" d="M1025.12,963h28.88M1025.12,1077h28.88"/><text class="bx" x="1039.56" y="1029" textLength="22" lengthAdjust="spacingAndGlyphs">ÇBASD12</text></g>
</svg>
